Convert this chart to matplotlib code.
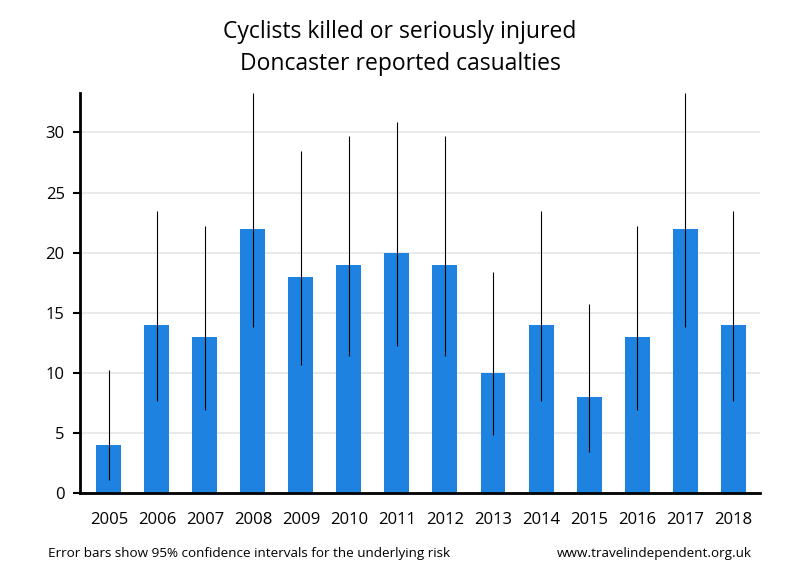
import matplotlib
matplotlib.use('Agg')
import matplotlib.pyplot as plt
import numpy as np

years = ['2005', '2006', '2007', '2008', '2009', '2010', '2011',
         '2012', '2013', '2014', '2015', '2016', '2017', '2018']
casualties = [4, 14, 13, 22, 18, 19, 20, 19, 10, 14, 8, 13, 22, 14]
ci_low = [1.09, 7.65, 6.92, 13.79, 10.67, 11.44, 12.22,
          11.44, 4.80, 7.65, 3.45, 6.92, 13.79, 7.65]
ci_high = [10.24, 23.49, 22.23, 33.31, 28.45, 29.67, 30.89,
           29.67, 18.39, 23.49, 15.76, 22.23, 33.31, 23.49]

plt.rcParams['font.family'] = ['Open Sans', 'DejaVu Sans']

fig = plt.figure(figsize=(8, 5.8), dpi=100)
ax = fig.add_axes([0.1, 0.15, 0.85, 0.69])

x = np.arange(len(years))
vals = np.array(casualties)
yerr = [vals - np.array(ci_low), np.array(ci_high) - vals]

ax.bar(x, vals, width=0.52, color='#1e82e0', zorder=2)
ax.errorbar(x, vals, yerr=yerr, fmt='none', ecolor='black', elinewidth=0.8,
            capsize=0, zorder=3)

ax.set_xlim(-0.6, 13.56)
ax.set_ylim(0, 33.3)
ax.set_yticks(np.arange(0, 31, 5))
ax.set_xticks(x)
ax.set_xticklabels(years)
ax.tick_params(axis='x', length=0, pad=14, labelsize=12)
ax.tick_params(axis='y', length=5, width=1.5, labelsize=12, pad=6)
ax.grid(axis='y', color='#e6e6e6', linewidth=1.2, zorder=0)
ax.set_axisbelow(True)

for s in ['top', 'right']:
    ax.spines[s].set_visible(False)
ax.spines['left'].set_linewidth(2)
ax.spines['bottom'].set_linewidth(2)

fig.text(0.5, 0.945, 'Cyclists killed or seriously injured', ha='center',
         va='center', fontsize=16.5)
fig.text(0.5, 0.89, 'Doncaster reported casualties', ha='center',
         va='center', fontsize=16.5)
fig.text(0.06, 0.045, 'Error bars show 95% confidence intervals for the underlying risk',
         fontsize=9.7, va='center')
fig.text(0.94, 0.045, 'www.travelindependent.org.uk', fontsize=9.7,
         va='center', ha='right')

fig.savefig('out.png', dpi=100)
